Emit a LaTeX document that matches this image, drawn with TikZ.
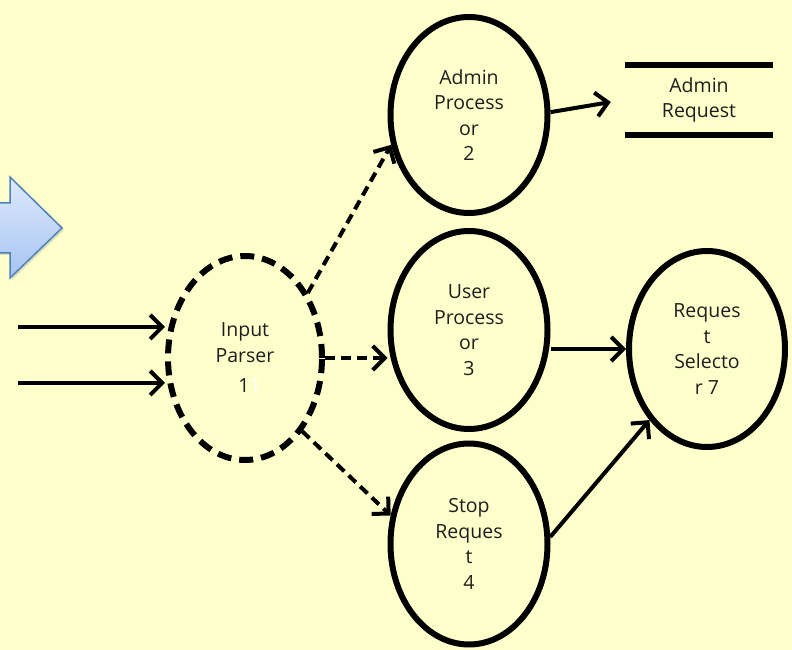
\documentclass[tikz,border=0pt]{standalone}
\usepackage{fontspec}
\setmainfont{Open Sans}
\usetikzlibrary{shapes.geometric,arrows.meta,shadows}
\definecolor{bgyellow}{RGB}{255,255,204}
\definecolor{arrowblueA}{RGB}{222,233,252}
\definecolor{arrowblueB}{RGB}{166,196,242}
\definecolor{arrowedge}{RGB}{79,129,189}
\definecolor{txt}{RGB}{30,30,30}
\begin{document}
\begin{tikzpicture}[x=1pt,y=1pt,
  lbl/.style={font=\fontsize{19.5}{25.5}\selectfont, text=txt, align=center},
  proc/.style={ellipse, draw, line width=6pt, minimum width=157pt, minimum height=196pt, inner sep=0pt, lbl},
  dproc/.style={proc, dash pattern=on 14pt off 8pt, minimum width=154pt, minimum height=204pt},
  tip/.style={-{Straight Barb[length=12pt,width=24pt,line width=4pt]}},
  flow/.style={tip, line width=4pt},
  dflow/.style={tip, line width=4pt, dash pattern=on 10pt off 6pt},
  store/.style={line width=6.5pt},
  block/.style={draw=arrowedge, line width=1.5pt, top color=arrowblueA, bottom color=arrowblueB, line join=miter, drop shadow={opacity=0.25, shadow xshift=2pt, shadow yshift=-2pt}}
]
\useasboundingbox (0,0) rectangle (792,650);
\fill[bgyellow] (0,0) rectangle (792,650);

\begin{scope}
\clip (0,0) rectangle (792,650);
\path[block] (-10,447) -- (10,447) -- (10,473) -- (62,422) -- (10,372) -- (10,397) -- (-10,397) -- cycle;
\end{scope}

\node[dproc] (inp) at (245,292) {Input\\Parser\\[5pt]\hspace*{9pt}1{\color{white}1}};
\node[proc] (adm) at (469,535) {Admin\\Process\\or\\2};
\node[proc, minimum height=198pt] (usr) at (469,320) {User\\Process\\or\\3};
\node[proc, minimum height=201pt] (stp) at (469,106) {Stop\\Reques\\t\\4};
\node[proc, minimum width=156pt, minimum height=196pt] (sel) at (707,301) {Reques\\t\\Selecto\\r 7};

\node[lbl, minimum width=148pt, minimum height=70pt, inner sep=0pt] (areq) at (699,550) {Admin\\Request};
\draw[store] (areq.north west) -- (areq.north east);
\draw[store] (areq.south west) -- (areq.south east);

\coordinate (in1) at (18,323);
\coordinate (in2) at (18,267);
\draw[flow] (in1) -- (in1 -| inp.west);
\draw[flow] (in2) -- (in2 -| inp.west);

\draw[dflow] (inp.46) -- (adm.201);
\draw[dflow] (inp.east) -- (inp.east -| usr.west);
\draw[dflow] (inp.-52) -- (stp.160);

\draw[flow] (adm.2) -- ([xshift=-14pt,yshift=-2pt]areq.west);
\draw[flow] (usr.east |- sel.west) -- (sel.west);
\draw[flow] (stp.5) -- (sel.231);
\end{tikzpicture}
\end{document}
